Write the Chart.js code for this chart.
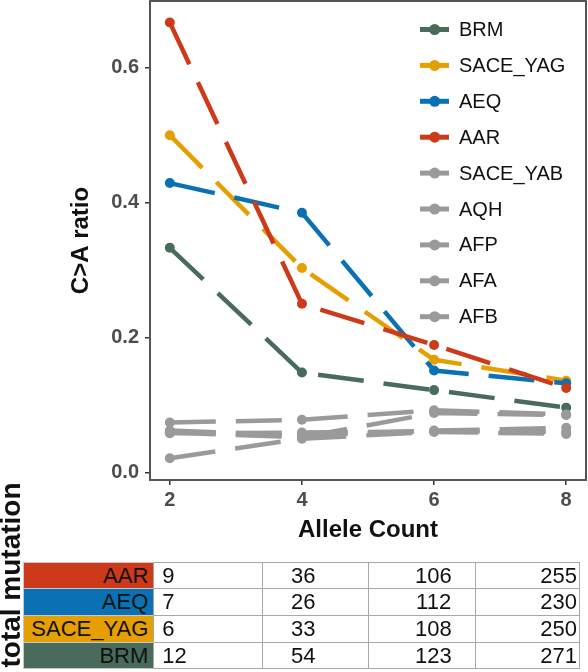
<!DOCTYPE html>
<html>
<head>
<meta charset="utf-8">
<script src="https://cdn.jsdelivr.net/npm/chart.js@4/dist/chart.umd.min.js"></script>
<style>
  body { margin: 0; background: #fff; }
  #wrap { position: relative; width: 588px; height: 672px; overflow: hidden; font-family: "Liberation Sans", Arial, sans-serif; }
  #plot { position: absolute; left: 0; top: 0; }
  .cell { position: absolute; box-sizing: border-box; border: 1px solid #a8a8a8; font-size: 22px; color: #111; line-height: 26px; white-space: nowrap; }
  .cell span { position: absolute; top: 0; }
  #side { position: absolute; left: -99px; top: 560px; width: 220px; height: 30px; line-height: 30px; text-align: center;
          font-size: 28px; font-weight: bold; color: #111; transform: rotate(-90deg); }
</style>
</head>
<body>
<div id="wrap">
  <canvas id="plot" width="588" height="556"></canvas>
  <div id="side">total mutation</div>
</div>
<script>
// allele counts on the x axis
var alleleCounts = [2, 4, 6, 8];
var yTicks = [0, 0.2, 0.4, 0.6];

var seriesNames = ["BRM", "SACE_YAG", "AEQ", "AAR", "SACE_YAB", "AQH", "AFP", "AFA", "AFB"];
var seriesColors = ["#486b5b", "#e69f00", "#0a72b4", "#cd3a19", "#9a9a9a", "#9a9a9a", "#9a9a9a", "#9a9a9a", "#9a9a9a"];

// C>A ratio per series
var ratioBRM     = [0.333, 0.148, 0.122, 0.096];
var ratioSACEYAG = [0.500, 0.303, 0.167, 0.136];
var ratioAEQ     = [0.429, 0.385, 0.151, 0.132];
var ratioAAR     = [0.667, 0.250, 0.189, 0.125];
var ratioSACEYAB = [0.074, 0.078, 0.092, 0.086];
var ratioAQH     = [0.059, 0.052, 0.088, 0.085];
var ratioAFP     = [0.062, 0.055, 0.062, 0.066];
var ratioAFA     = [0.021, 0.050, 0.060, 0.057];
var ratioAFB     = [0.058, 0.059, 0.061, 0.060];
var allRatios = [ratioBRM, ratioSACEYAG, ratioAEQ, ratioAAR, ratioSACEYAB, ratioAQH, ratioAFP, ratioAFA, ratioAFB];

// total mutation table
var tableRows   = ["AAR", "AEQ", "SACE_YAG", "BRM"];
var tableColors = ["#cd3a19", "#0a72b4", "#e69f00", "#486b5b"];
var mutAAR     = [9, 36, 106, 255];
var mutAEQ     = [7, 26, 112, 230];
var mutSACEYAG = [6, 33, 108, 250];
var mutBRM     = [12, 54, 123, 271];
var tableValues = [mutAAR, mutAEQ, mutSACEYAG, mutBRM];

var FONT = '"Liberation Sans", Arial, sans-serif';

var datasets = seriesNames.map(function (name, i) {
  return {
    label: name,
    data: alleleCounts.map(function (x, j) { return { x: x, y: allRatios[i][j] }; }),
    borderColor: seriesColors[i],
    backgroundColor: seriesColors[i],
    pointBackgroundColor: seriesColors[i],
    borderWidth: 4.5,
    borderDash: [46, 20],
    borderCapStyle: 'butt',
    pointRadius: 5,
    pointHoverRadius: 5,
    pointBorderWidth: 0,
    tension: 0,
    order: seriesNames.length - i
  };
});

// panel border + legend inside the plot
var panelPlugin = {
  id: 'panel',
  afterDraw: function (chart) {
    var ctx = chart.ctx, a = chart.chartArea;
    ctx.save();
    ctx.strokeStyle = '#555';
    ctx.lineWidth = 2;
    ctx.strokeRect(a.left, a.top, a.right - a.left, a.bottom - a.top);

    ctx.font = '20px ' + FONT;
    ctx.textBaseline = 'middle';
    chart.data.datasets.forEach(function (ds, i) {
      var y = 29.5 + i * 35.9;
      ctx.strokeStyle = ds.borderColor;
      ctx.lineWidth = 5;
      ctx.beginPath();
      ctx.moveTo(420, y);
      ctx.lineTo(449, y);
      ctx.stroke();
      ctx.fillStyle = ds.borderColor;
      ctx.beginPath();
      ctx.arc(434.7, y, 5.5, 0, Math.PI * 2);
      ctx.fill();
      ctx.fillStyle = '#111';
      ctx.fillText(ds.label, 459, y + 1);
    });
    ctx.restore();
  }
};

new Chart(document.getElementById("plot"), {
  type: 'line',
  data: { datasets: datasets },
  options: {
    responsive: false,
    animation: false,
    layout: { autoPadding: false, padding: { top: 1, right: 2, left: 0, bottom: 0 } },
    plugins: { legend: { display: false }, tooltip: { enabled: false } },
    scales: {
      x: {
        type: 'linear',
        min: 1.7,
        max: 8.3,
        afterBuildTicks: function (s) { s.ticks = alleleCounts.map(function (v) { return { value: v }; }); },
        afterFit: function (s) { s.height = 76; s.paddingLeft = 0; s.paddingRight = 0; },
        grid: { drawOnChartArea: false, drawTicks: true, tickLength: 5, color: '#333', lineWidth: 1.5 },
        border: { display: false },
        ticks: { color: '#4d4d4d', font: { family: FONT, size: 20, weight: 'bold' }, padding: 3, maxRotation: 0 },
        title: { display: true, text: 'Allele Count', color: '#111', font: { family: FONT, size: 24, weight: 'bold' }, padding: { top: 0, bottom: 11 } }
      },
      y: {
        min: -0.0113,
        max: 0.699,
        afterBuildTicks: function (s) { s.ticks = yTicks.map(function (v) { return { value: v }; }); },
        afterFit: function (s) { s.width = 150; s.paddingTop = 0; s.paddingBottom = 0; },
        grid: { drawOnChartArea: false, drawTicks: true, tickLength: 5, color: '#333', lineWidth: 1.5 },
        border: { display: false },
        ticks: {
          color: '#4d4d4d', font: { family: FONT, size: 20, weight: 'bold' }, padding: 6,
          callback: function (v) { return v.toFixed(1); }
        },
        title: { display: true, text: 'C>A ratio', color: '#111', font: { family: FONT, size: 24, weight: 'bold' }, padding: { top: 67, bottom: 0 } }
      }
    }
  },
  plugins: [panelPlugin]
});

// table below the plot
var wrap = document.getElementById('wrap');
var colEdges = [23.3, 153.3, 261.7, 368.3, 475, 579];
var rowTop = 561.7, rowH = 26.7;
var hjust = [0, 1 / 3, 2 / 3, 1];
var meas = document.createElement('canvas').getContext('2d');
meas.font = '22px ' + FONT;

tableRows.forEach(function (name, r) {
  var top = rowTop + r * rowH;
  var lab = document.createElement('div');
  lab.className = 'cell';
  lab.style.left = colEdges[0] + 'px';
  lab.style.top = top + 'px';
  lab.style.width = (colEdges[1] - colEdges[0] + 1) + 'px';
  lab.style.height = (rowH + 1) + 'px';
  lab.style.background = tableColors[r];
  lab.style.borderColor = '#c8c8c8';
  lab.style.textAlign = 'right';
  lab.style.paddingRight = '5px';
  lab.textContent = name;
  wrap.appendChild(lab);

  tableValues[r].forEach(function (v, c) {
    var cell = document.createElement('div');
    cell.className = 'cell';
    var L = colEdges[c + 1], W = colEdges[c + 2] - colEdges[c + 1];
    cell.style.left = L + 'px';
    cell.style.top = top + 'px';
    cell.style.width = (W + 1) + 'px';
    cell.style.height = (rowH + 1) + 'px';
    var span = document.createElement('span');
    span.textContent = String(v);
    var tw = meas.measureText(String(v)).width;
    var pad = c === 0 ? 8 : 3;
    span.style.left = (pad + (W - 2 * pad - tw) * hjust[c]) + 'px';
    cell.appendChild(span);
    wrap.appendChild(cell);
  });
});
</script>
</body>
</html>
